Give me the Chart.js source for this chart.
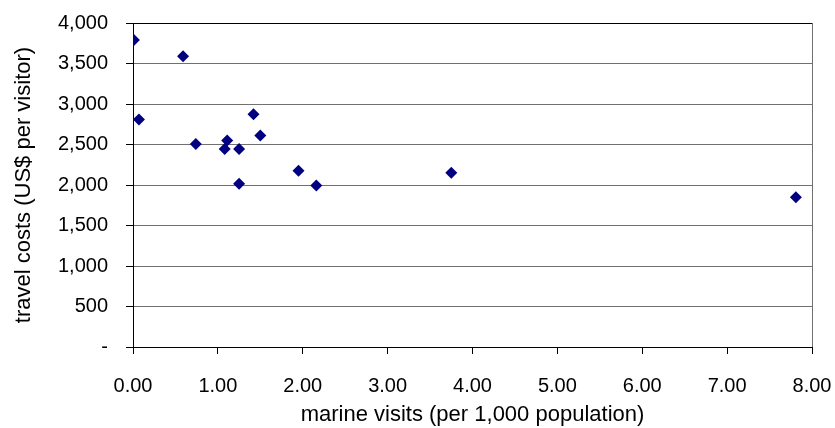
<!DOCTYPE html>
<html>
<head>
<meta charset="utf-8">
<script src="https://cdn.jsdelivr.net/npm/chart.js@4/dist/chart.umd.min.js"></script>
<style>
  html, body { margin: 0; padding: 0; background: #fff; }
  #wrap { width: 835px; height: 428px; }
</style>
</head>
<body>
<div id="wrap"><canvas id="chart"></canvas></div>
<script>
// marine visits (per 1,000 population) vs travel costs (US$ per visitor)
const visits = [0.01, 0.07, 0.59, 0.74, 1.08, 1.11, 1.25, 1.25, 1.42, 1.50, 1.95, 2.16, 3.75, 7.81];
const costs = [3790, 2810, 3590, 2505, 2445, 2550, 2445, 2015, 2875, 2610, 2175, 1995, 2150, 1850];

const FAMILY = "'Liberation Sans', Arial, sans-serif";
const TICK_FONT = { family: FAMILY, size: 20 };
const TITLE_FONT = { family: FAMILY, size: 22 };

new Chart(document.getElementById("chart"), {
  type: "scatter",
  data: {
    datasets: [
      {
        label: "visits",
        data: visits.map((v, i) => ({ x: v, y: costs[i] })),
        pointStyle: "rectRot",
        pointRadius: 6,
        pointHoverRadius: 6,
        backgroundColor: "#000080",
        borderColor: "#000080",
        borderWidth: 0,
      },
    ],
  },
  options: {
    responsive: true,
    maintainAspectRatio: false,
    animation: false,
    layout: { padding: { top: 23, right: 23, left: 0, bottom: 0 } },
    plugins: {
      legend: { display: false },
      tooltip: { enabled: false },
    },
    scales: {
      x: {
        type: "linear",
        min: 0,
        max: 8,
        ticks: {
          stepSize: 1,
          color: "#000",
          font: TICK_FONT,
          padding: 20,
          maxRotation: 0,
          callback: (v) => v.toFixed(2),
        },
        grid: {
          color: (c) => (c.index === 8 ? "#707070" : "rgba(0,0,0,0)"),
          tickColor: "#000",
          tickLength: 7,
        },
        border: { color: "#000", width: 1 },
        title: {
          display: true,
          text: "marine visits (per 1,000 population)",
          color: "#000",
          font: TITLE_FONT,
          padding: { top: 0, bottom: 0 },
        },
        afterFit: (s) => {
          s.height = 81;
          s.paddingLeft = 0;
          s.paddingRight = 0;
        },
      },
      y: {
        min: 0,
        max: 4000,
        ticks: {
          stepSize: 500,
          color: "#000",
          font: TICK_FONT,
          padding: 18,
          callback: (v) => (v === 0 ? "-" : v.toLocaleString("en-US")),
        },
        grid: {
          color: (c) => (c.index === 8 ? "#000" : "#707070"),
          tickColor: "#000",
          tickLength: 7,
        },
        border: { color: "#000", width: 1 },
        title: {
          display: true,
          text: "travel costs (US$ per visitor)",
          color: "#000",
          font: TITLE_FONT,
          padding: { top: 11, bottom: 0 },
        },
        afterFit: (s) => {
          s.width = 133;
          s.paddingTop = 0;
          s.paddingBottom = 0;
        },
      },
    },
  },
});
</script>
</body>
</html>
